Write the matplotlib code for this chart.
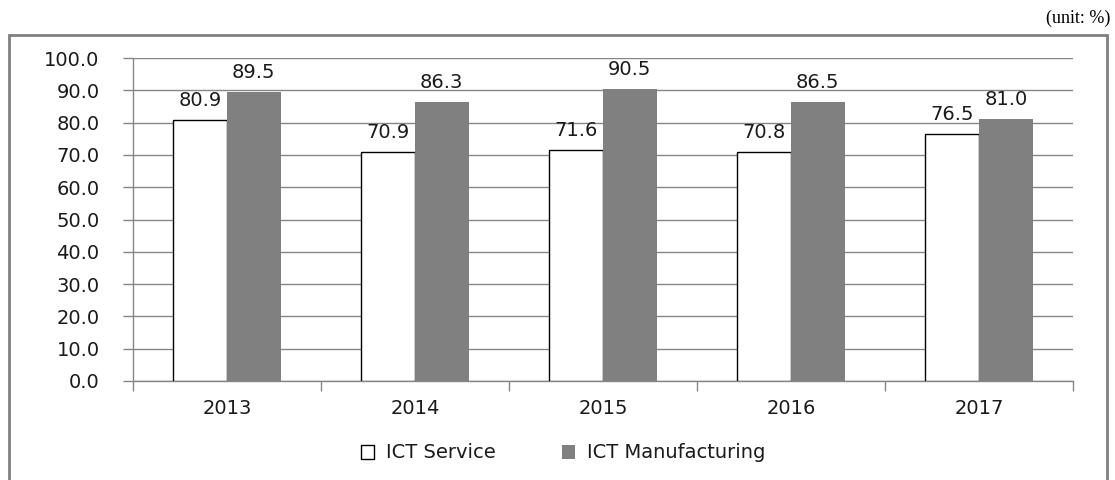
import matplotlib
matplotlib.use("Agg")
import matplotlib.pyplot as plt
import numpy as np
from matplotlib.patches import Rectangle

# datos
years = ["2013", "2014", "2015", "2016", "2017"]
ict_service = [80.9, 70.9, 71.6, 70.8, 76.5]
ict_manufacturing = [89.5, 86.3, 90.5, 86.5, 81.0]

plt.rcParams['font.family'] = ['DejaVu Sans']
grid_col = "#868686"
txt_col = "#1a1a1a"
fs = 14

fig = plt.figure(figsize=(11.15, 4.8), dpi=100)
ax = fig.add_axes([133/1115, 99/480, 940/1115, 323/480])

x = np.arange(len(years))
w = 0.285
b1 = ax.bar(x - w/2, ict_service, w, color="white", edgecolor="black", linewidth=1.0,
            label="ICT Service", zorder=3)
b2 = ax.bar(x + w/2, ict_manufacturing, w, color="#808080", edgecolor="none",
            label="ICT Manufacturing", zorder=3)

for bars, vals in [(b1, ict_service), (b2, ict_manufacturing)]:
    for r, v in zip(bars, vals):
        ax.annotate(f"{v:.1f}", (r.get_x() + r.get_width()/2, v), xytext=(0, 10),
                    textcoords="offset points", ha="center", va="baseline",
                    fontsize=fs, color=txt_col)

ax.set_xlim(-0.5, len(years) - 0.5)
ax.set_ylim(0, 100)
ax.set_yticks(np.arange(0, 101, 10))
ax.set_yticklabels([f"{v:.1f}" for v in np.arange(0, 101, 10)], fontsize=fs, color=txt_col)
ax.set_xticks(x)
ax.set_xticklabels(years, fontsize=fs, color=txt_col)
ax.set_xticks(np.arange(-0.5, len(years), 1), minor=True)
ax.tick_params(axis="x", which="major", length=0, pad=13)
ax.tick_params(axis="x", which="minor", length=7, color=grid_col, width=1)
ax.tick_params(axis="y", length=7, color=grid_col, width=1, pad=17)
ax.yaxis.grid(True, color=grid_col, linewidth=1, zorder=0)
ax.set_axisbelow(True)
for s in ["top", "right"]:
    ax.spines[s].set_visible(False)
for s in ["left", "bottom"]:
    ax.spines[s].set_color(grid_col)
    ax.spines[s].set_linewidth(1)

leg = fig.legend(handles=[b1, b2], loc="center", bbox_to_anchor=(563/1115, 1 - 453/480),
                 ncol=2, frameon=False, fontsize=fs, handlelength=0.7, handleheight=0.7,
                 handletextpad=0.6, columnspacing=3.4)
for t in leg.get_texts():
    t.set_color(txt_col)

# marco exterior
fig.patches.append(Rectangle((9/1115, -0.05), (1107-9)/1115, 1.05 - 35/480, transform=fig.transFigure,
                             fill=False, edgecolor="#808080", linewidth=2, clip_on=False))

fig.text(1110/1115, 1 - 18/480, "(unit: %)", ha="right", va="center",
         fontsize=13, family="Liberation Serif", color="black")

plt.savefig("out.png", dpi=100)
